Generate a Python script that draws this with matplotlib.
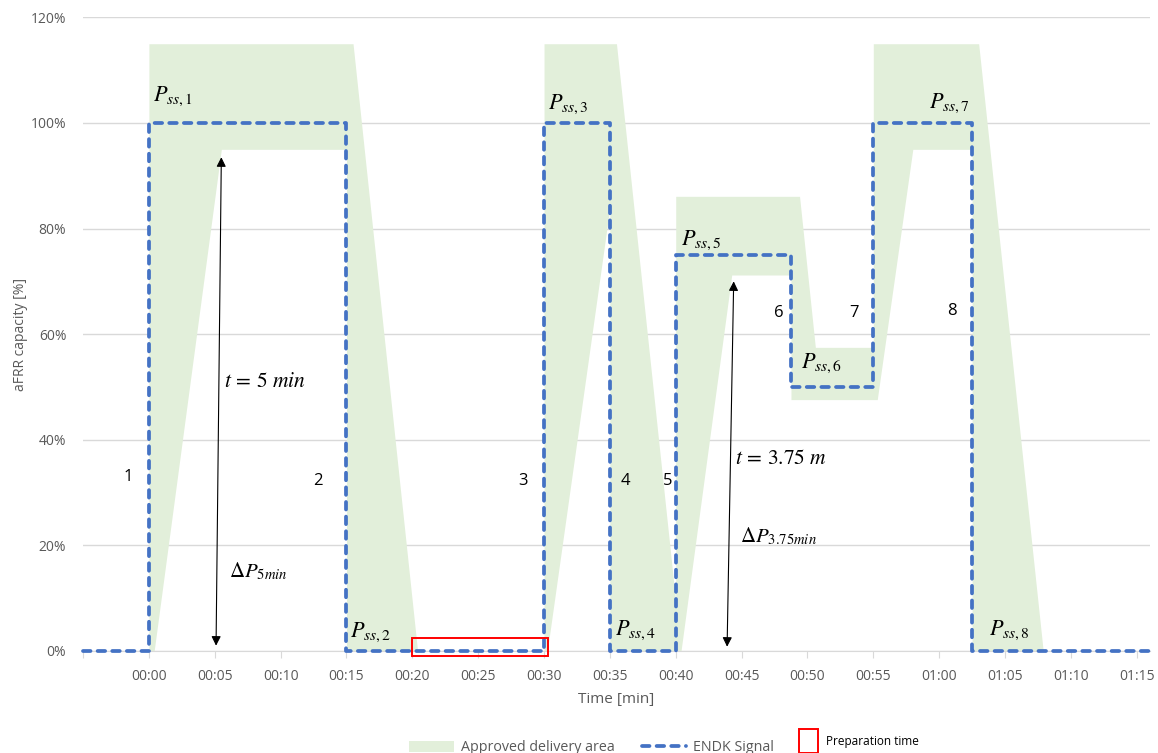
import matplotlib.pyplot as plt
from matplotlib.patches import Rectangle, Patch
from matplotlib.lines import Line2D

plt.rcParams['font.family'] = ['Open Sans', 'DejaVu Sans']
plt.rcParams['mathtext.fontset'] = 'stix'

# ENDK signal (step curve), time in minutes, value in %
sig_t = [-5, 0, 0, 15, 15, 30, 30, 35, 35, 40, 40, 48.75, 48.75, 55, 55, 62.5, 62.5, 76]
sig_v = [0, 0, 100, 100, 0, 0, 100, 100, 0, 0, 75, 75, 50, 50, 100, 100, 0, 0]

# approved delivery area: lower and upper bound
area_t = [0, 0, 0.4, 5.5, 15, 15, 15.5, 20.4, 30, 30, 30.25, 35, 35, 35.5, 40, 40,
          40.4, 44.25, 48.75, 48.75, 49.4, 50.6, 55, 55, 55.3, 58.0, 62.5, 62.5, 63.0, 67.9]
area_lo = [0, 0, 0, 95, 95, 0, 0, 0, 0, 0, 0, 84, 0, 0, 0, 0,
           0, 71.2, 71.2, 47.6, 47.6, 47.6, 47.6, 47.6, 47.6, 95, 95, 0, 0, 0]
area_hi = [0, 115, 115, 115, 115, 115, 115, 0, 0, 115, 115, 115, 115, 115, 9.4, 86.1,
           86.1, 86.1, 86.1, 86.1, 86.1, 57.5, 57.5, 115, 115, 115, 115, 115, 115, 0]

# preparation time window
prep_t = (20.0, 30.3)
prep_v = (-1.0, 2.5)

# steady state labels
pss_names = ['1', '2', '3', '4', '5', '6', '7', '8']
pss_t = [0.3, 15.3, 30.3, 35.4, 40.4, 49.5, 59.2, 63.8]
pss_v = [105, 3.6, 103.6, 4, 77.7, 54.4, 103.8, 4]

# step numbers
step_names = ['1', '2', '3', '4', '5', '6', '7', '8']
step_t = [-1.6, 12.8, 28.4, 36.2, 39.4, 47.8, 53.5, 61.0]
step_v = [33, 32.2, 32.2, 32.2, 32.2, 64, 64, 64.4]

ticks = list(range(-5, 80, 5))
tick_labels = ['' if m < 0 else f"{m // 60:02d}:{m % 60:02d}" for m in ticks]

green = '#E2EFDA'
blue = '#4472C4'
gray = '#595959'
grid = '#D9D9D9'

fig = plt.figure(figsize=(11.58, 7.53), dpi=100)
ax = fig.add_axes([0.0717, 0.1355, 0.9213, 0.8415])

ax.fill_between(area_t, area_lo, area_hi, color=green, linewidth=0, zorder=1)
ax.plot(sig_t, sig_v, color=blue, lw=2.7, linestyle=(0, (2.0, 1.9)),
        dash_capstyle='round', zorder=3, clip_on=False)
ax.add_patch(Rectangle((prep_t[0], prep_v[0]), prep_t[1] - prep_t[0], prep_v[1] - prep_v[0],
                       fill=False, edgecolor='#FF0000', lw=1.4, zorder=4, clip_on=False))

# arrows
ax.annotate('', xy=(5.5, 93.5), xytext=(5.1, 1.0),
            arrowprops=dict(arrowstyle='<|-|>', color='black', lw=0.8,
                            mutation_scale=14, shrinkA=0, shrinkB=0), zorder=5)
ax.annotate('', xy=(44.4, 70), xytext=(43.9, 0.8),
            arrowprops=dict(arrowstyle='<|-|>', color='black', lw=0.8,
                            mutation_scale=14, shrinkA=0, shrinkB=0), zorder=5)

ax.text(5.7, 51, r'$t\,=\,5\ min$', fontsize=15.5, va='center')
ax.text(6.1, 15, r'$\Delta P_{5min}$', fontsize=15, va='center')
ax.text(44.5, 36.4, r'$t\,=\,3.75\ m$', fontsize=15.5, va='center')
ax.text(44.9, 21.6, r'$\Delta P_{3.75min}$', fontsize=15, va='center')

for n, t, v in zip(pss_names, pss_t, pss_v):
    ax.text(t, v, r'$P_{ss,' + n + '}$', fontsize=16, va='center', zorder=6)
for n, t, v in zip(step_names, step_t, step_v):
    ax.text(t, v, n, fontsize=12, va='center', ha='center', color='black')

ax.set_xlim(-5, 76)
ax.set_ylim(0, 120)
ax.set_yticks(range(0, 121, 20))
ax.set_yticklabels([f"{v}%" for v in range(0, 121, 20)])
ax.set_xticks(ticks)
ax.set_xticklabels(tick_labels)
ax.grid(axis='y', color=grid, lw=1)
ax.set_axisbelow(True)
for s in ['top', 'right', 'left']:
    ax.spines[s].set_visible(False)
ax.spines['bottom'].set_color(grid)
ax.tick_params(axis='y', length=0, pad=12, labelsize=10, labelcolor=gray)
ax.tick_params(axis='x', length=5, color=grid, pad=8, labelsize=10, labelcolor=gray)
ax.set_xlabel('Time [min]', fontsize=11, color=gray, labelpad=6)
ax.set_ylabel('aFRR capacity [%]', fontsize=10, color=gray, labelpad=2)

handles = [Patch(facecolor=green, edgecolor='none'),
           Line2D([], [], color=blue, lw=2.7, linestyle=(0, (2.0, 1.9)), dash_capstyle='round')]
fig.legend(handles, ['Approved delivery area', 'ENDK Signal'], loc='center',
           bbox_to_anchor=(0.511, 0.007), ncol=2, frameon=False, fontsize=10.3,
           labelcolor=gray, handlelength=3.1, handleheight=0.8, handletextpad=0.5,
           columnspacing=1.9)
fig.patches.append(Rectangle((799 / 1158, 0.0), 19 / 1158, 24 / 753, transform=fig.transFigure,
                             fill=False, edgecolor='#FF0000', lw=1.4))
fig.text(826 / 1158, 1 - 742 / 753, 'Preparation time', fontsize=8.5, va='center', color='black')

fig.savefig('out.png', dpi=100)
